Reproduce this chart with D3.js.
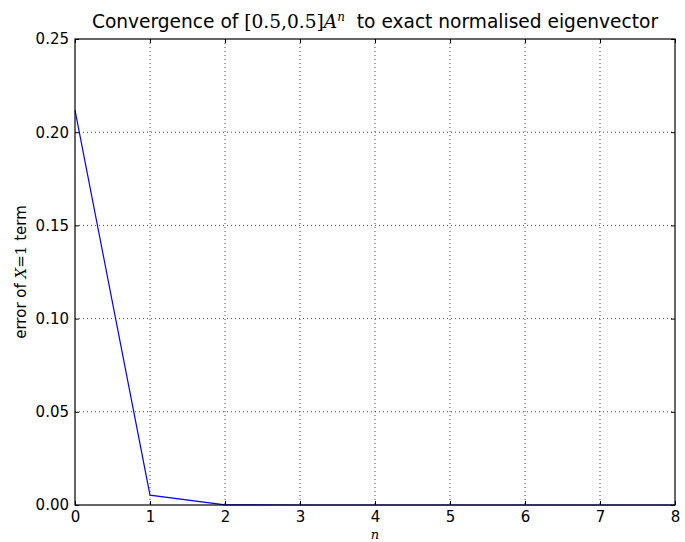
<!DOCTYPE html>
<html>
  <head>
    <meta charset="UTF-8" />
    <script src="https://d3js.org/d3.v7.min.js"></script>
    <style>
      body { margin: 0; background: #fff; }
      text { font-family: 'DejaVu Sans', sans-serif; fill: #000; }
      .math { font-family: 'DejaVu Serif', 'Liberation Serif', serif; }
      .grid line { stroke: #000; stroke-width: 0.7; stroke-dasharray: 1,3; }
    </style>
  </head>
  <body>
    <svg id="chart" width="685" height="542"></svg>
    <script>
      // data
      var steps = [0, 1, 2, 3, 4, 5, 6, 7, 8];
      var errors = [0.2118, 0.0053, 0.0001, 0, 0, 0, 0, 0, 0];
      var xTicks = [0, 1, 2, 3, 4, 5, 6, 7, 8];
      var yTicks = [0, 0.05, 0.1, 0.15, 0.2, 0.25];

      var margin = { top: 39, right: 10, bottom: 37, left: 75 };
      var width = 685 - margin.left - margin.right;
      var height = 542 - margin.top - margin.bottom;

      var svg = d3.select('#chart');
      var g = svg.append('g').attr('transform', 'translate(' + margin.left + ',' + margin.top + ')');

      var x = d3.scaleLinear().domain([0, 8]).range([0, width]);
      var y = d3.scaleLinear().domain([0, 0.25]).range([height, 0]);

      // grid
      var grid = g.append('g').attr('class', 'grid');
      grid.selectAll('.gx').data(xTicks.slice(1, -1)).enter().append('line')
        .attr('x1', d => x(d)).attr('x2', d => x(d)).attr('y1', 0).attr('y2', height);
      grid.selectAll('.gy').data(yTicks.slice(1, -1)).enter().append('line')
        .attr('y1', d => y(d)).attr('y2', d => y(d)).attr('x1', 0).attr('x2', width);

      // the line
      var line = d3.line().x((d, i) => x(steps[i])).y(d => y(d));
      g.append('path').datum(errors)
        .attr('d', line).attr('fill', 'none').attr('stroke', '#0000ff').attr('stroke-width', 1.2);

      // axes (ticks point inward, matplotlib classic style)
      var xAxis = g.append('g').attr('transform', 'translate(0,' + height + ')')
        .call(d3.axisBottom(x).tickValues(xTicks).tickSizeInner(-4).tickSizeOuter(0).tickPadding(6).tickFormat(d3.format('d')));
      var xTop = g.append('g')
        .call(d3.axisTop(x).tickValues(xTicks).tickSizeInner(-4).tickSizeOuter(0).tickFormat(''));
      var yAxis = g.append('g')
        .call(d3.axisLeft(y).tickValues(yTicks).tickSizeInner(-4).tickSizeOuter(0).tickPadding(6).tickFormat(d3.format('.2f')));
      var yRight = g.append('g').attr('transform', 'translate(' + width + ',0)')
        .call(d3.axisRight(y).tickValues(yTicks).tickSizeInner(-4).tickSizeOuter(0).tickFormat(''));
      [xAxis, xTop, yAxis, yRight].forEach(function (a) {
        a.selectAll('.domain').remove();
        a.selectAll('line').attr('stroke', '#000');
        a.selectAll('text').style('font-size', '15px').style('font-family', "'DejaVu Sans', sans-serif");
      });

      // frame
      g.append('rect').attr('width', width).attr('height', height)
        .attr('fill', 'none').attr('stroke', '#000').attr('stroke-width', 1.2);

      // title
      var title = svg.append('text').attr('x', margin.left + width / 2).attr('y', 28)
        .attr('text-anchor', 'middle').style('font-size', '18.6px');
      title.append('tspan').text('Convergence of ');
      title.append('tspan').attr('class', 'math').text('[0.5,0.5]');
      title.append('tspan').attr('class', 'math').style('font-style', 'italic').text('A');
      title.append('tspan').attr('class', 'math').style('font-style', 'italic')
        .style('font-size', '12px').attr('dy', -7).text('n');
      title.append('tspan').attr('dy', 7).text('\u00a0 to exact normalised eigenvector');

      // x label
      svg.append('text').attr('x', margin.left + width / 2).attr('y', 539)
        .attr('text-anchor', 'middle').attr('class', 'math')
        .style('font-style', 'italic').style('font-size', '13px').text('n');

      // y label
      var yl = svg.append('text')
        .attr('transform', 'translate(26,' + (margin.top + height / 2) + ') rotate(-90)')
        .attr('text-anchor', 'middle').style('font-size', '15px');
      yl.append('tspan').text('error of ');
      yl.append('tspan').attr('class', 'math').style('font-style', 'italic').text('X');
      yl.append('tspan').attr('class', 'math').text('=1');
      yl.append('tspan').text(' term');
    </script>
  </body>
</html>
